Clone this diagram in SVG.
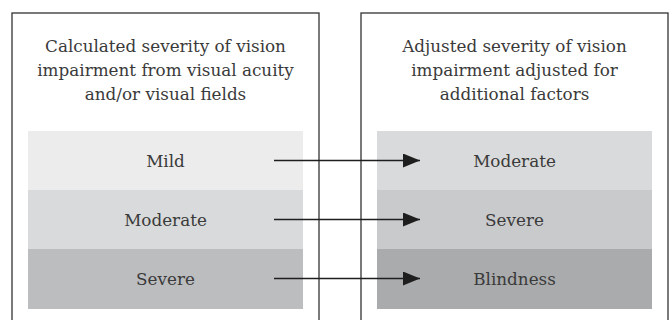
<svg xmlns="http://www.w3.org/2000/svg" width="670" height="320" viewBox="0 0 670 320">
  <defs>
    <marker id="arrow" markerWidth="17" markerHeight="14" refX="17" refY="7" orient="auto" markerUnits="userSpaceOnUse">
      <path d="M0,0 L17,7 L0,14 Z" fill="#1e1e1e"/>
    </marker>
    <style>
      .frame { fill: #ffffff; stroke: #333333; stroke-width: 1.3; }
      .t { font-family: "DejaVu Serif", "Liberation Serif", serif; font-size: 16.8px; fill: #3a3a3a; text-anchor: middle; }
      .conn { stroke: #1e1e1e; stroke-width: 1.5; fill: none; }
    </style>
  </defs>
  <rect width="670" height="320" fill="#ffffff"/>

  <g id="left-panel">
    <rect class="frame" x="12" y="13" width="307" height="320"/>
    <text class="t" x="165.5" y="51.5">Calculated severity of vision</text>
    <text class="t" x="165.5" y="76">impairment from visual acuity</text>
    <text class="t" x="165.5" y="100">and/or visual fields</text>
  </g>
  <g id="right-panel">
    <rect class="frame" x="361" y="13" width="307" height="320"/>
    <text class="t" x="514.5" y="51.5">Adjusted severity of vision</text>
    <text class="t" x="514.5" y="76">impairment adjusted for</text>
    <text class="t" x="514.5" y="100">additional factors</text>
  </g>

  <g id="left-mild">
    <rect x="28" y="131" width="275" height="59" fill="#ececec"/>
    <text class="t" x="165.5" y="166.5">Mild</text>
  </g>
  <g id="left-moderate">
    <rect x="28" y="190" width="275" height="59" fill="#d9dadb"/>
    <text class="t" x="165.5" y="225.5">Moderate</text>
  </g>
  <g id="left-severe">
    <rect x="28" y="249" width="275" height="60" fill="#bcbdbf"/>
    <text class="t" x="165.5" y="285">Severe</text>
  </g>

  <g id="right-moderate">
    <rect x="377" y="131" width="275" height="59" fill="#d9dadb"/>
    <text class="t" x="514.5" y="166.5">Moderate</text>
  </g>
  <g id="right-severe">
    <rect x="377" y="190" width="275" height="59" fill="#c9cacc"/>
    <text class="t" x="514.5" y="225.5">Severe</text>
  </g>
  <g id="right-blindness">
    <rect x="377" y="249" width="275" height="60" fill="#aaabad"/>
    <text class="t" x="514.5" y="285">Blindness</text>
  </g>

  <g id="connectors">
    <line class="conn" x1="274" y1="160.5" x2="420" y2="160.5" marker-end="url(#arrow)"/>
    <line class="conn" x1="274" y1="219.5" x2="420" y2="219.5" marker-end="url(#arrow)"/>
    <line class="conn" x1="274" y1="278.5" x2="420" y2="278.5" marker-end="url(#arrow)"/>
  </g>
</svg>
